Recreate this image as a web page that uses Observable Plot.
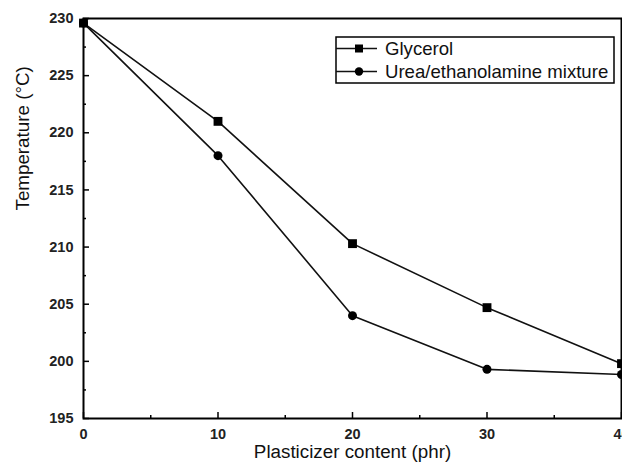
<!DOCTYPE html>
<html>
<head>
<meta charset="utf-8">
<script src="https://cdn.jsdelivr.net/npm/d3@7"></script>
<script src="https://cdn.jsdelivr.net/npm/@observablehq/plot@0.6"></script>
<style>
  html, body { margin: 0; padding: 0; background: #fff; overflow: hidden; }
  #chart { width: 622px; height: 472px; }
</style>
</head>
<body>
<div id="chart"></div>
<script>
// Plasticizer content (phr)
const content = [0, 10, 20, 30, 40];
// Temperature (°C) for each plasticizer
const glycerol = [229.6, 221.0, 210.3, 204.7, 199.8];
const ureaMix = [229.6, 218.0, 204.0, 199.3, 198.85];

const seriesNames = ["Glycerol", "Urea/ethanolamine mixture"];
const seriesSymbols = ["square", "circle"];

const xTicks = [0, 10, 20, 30, 40];
const xMinor = [5, 15, 25, 35];
const yTicks = [195, 200, 205, 210, 215, 220, 225, 230];
const yMinor = [197.5, 202.5, 207.5, 212.5, 217.5, 222.5, 227.5];

const rows = [];
content.forEach((c, i) => {
  rows.push({series: seriesNames[0], x: c, y: glycerol[i]});
  rows.push({series: seriesNames[1], x: c, y: ureaMix[i]});
});

const W = 622, H = 472;
const mL = 83, mR = 1, mT = 18, mB = 54;
const innerW = W - mL - mR, innerH = H - mT - mB;
const font = "'Liberation Sans', Arial, sans-serif";

const chart = Plot.plot({
  width: W,
  height: H,
  marginLeft: mL,
  marginRight: mR,
  marginTop: mT,
  marginBottom: mB,
  style: {fontFamily: font, background: "#fff", color: "#000"},
  x: {domain: [0, 40]},
  y: {domain: [195, 230]},
  marks: [
    // inward ticks
    Plot.tickX(xTicks, {x: d => d, stroke: "#000", strokeWidth: 1.5, insetTop: innerH - 6}),
    Plot.tickX(xMinor, {x: d => d, stroke: "#000", strokeWidth: 1.5, insetTop: innerH - 3}),
    Plot.tickY(yTicks, {y: d => d, stroke: "#000", strokeWidth: 1.5, insetRight: innerW - 6}),
    Plot.tickY(yMinor, {y: d => d, stroke: "#000", strokeWidth: 1.5, insetRight: innerW - 3}),
    Plot.axisX({ticks: xTicks, tickSize: 0, tickPadding: 10, label: null,
      fontSize: 14.5, fontWeight: "bold", fill: "#222"}),
    Plot.axisY({ticks: yTicks, tickSize: 0, tickPadding: 10, label: null,
      fontSize: 14.5, fontWeight: "bold", fill: "#222"}),
    Plot.text(["Plasticizer content (phr)"], {frameAnchor: "bottom", dy: 39,
      fontSize: 18.8, fill: "#111"}),
    Plot.text(["Temperature (°C)"], {frameAnchor: "left", rotate: -90, dx: -61, dy: -8,
      fontSize: 18.8, fill: "#111"}),
    Plot.line(rows, {x: "x", y: "y", z: "series", stroke: "#111", strokeWidth: 1.6}),
    Plot.dot(rows.filter(d => d.series === seriesNames[0]), {x: "x", y: "y", symbol: "square", r: 5, fill: "#000", stroke: "none"}),
    Plot.dot(rows.filter(d => d.series === seriesNames[1]), {x: "x", y: "y", symbol: "circle", r: 4.5, fill: "#000", stroke: "none"}),
    Plot.frame({stroke: "#000", strokeWidth: 2})
  ]
});

document.getElementById("chart").appendChild(chart);

// Legend box in the upper right of the plot area
const svg = d3.select(chart);
const lg = svg.append("g")
  .attr("font-family", font)
  .attr("text-anchor", "start");
const box = {x: 336, y: 37, w: 278, h: 46};
lg.append("rect")
  .attr("x", box.x).attr("y", box.y).attr("width", box.w).attr("height", box.h)
  .attr("fill", "#fff").attr("stroke", "#000").attr("stroke-width", 1.5);
seriesNames.forEach((name, i) => {
  const cy = box.y + 11.5 + i * 23;
  const cx = box.x + 23;
  lg.append("line")
    .attr("x1", box.x).attr("x2", box.x + 41).attr("y1", cy).attr("y2", cy)
    .attr("stroke", "#111").attr("stroke-width", 1.5);
  if (seriesSymbols[i] === "square") {
    lg.append("rect")
      .attr("x", cx - 4).attr("y", cy - 4).attr("width", 8).attr("height", 8)
      .attr("fill", "#000").attr("stroke", "none");
  } else {
    lg.append("circle")
      .attr("cx", cx).attr("cy", cy).attr("r", 4.2)
      .attr("fill", "#000").attr("stroke", "none");
  }
  lg.append("text")
    .attr("x", box.x + 49).attr("y", cy).attr("dy", "0.35em")
    .attr("font-size", 18.6).attr("fill", "#111")
    .attr("text-anchor", "start")
    .text(name);
});
</script>
</body>
</html>
